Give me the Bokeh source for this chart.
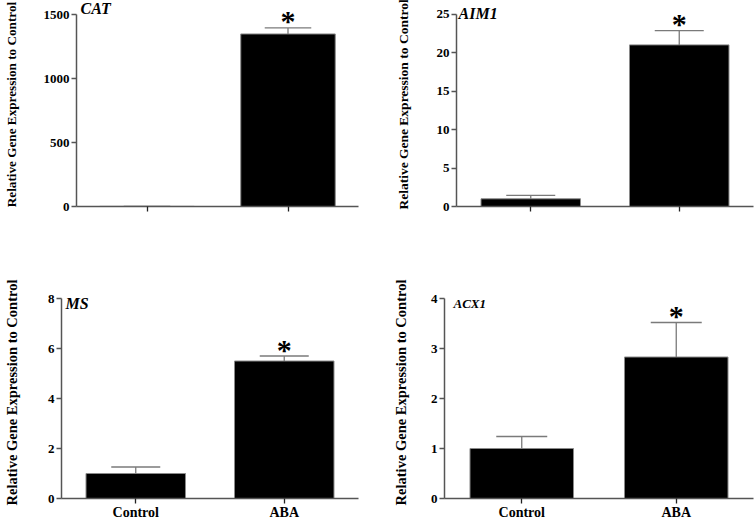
from bokeh.plotting import figure
from bokeh.models import ColumnDataSource, FixedTicker, FactorRange, Range1d
from bokeh.transform import dodge
from bokeh.layouts import column, row
from bokeh.embed import file_html
from bokeh.resources import INLINE

groups = ["Control", "ABA"]

genes = ["CAT", "AIM1", "MS", "ACX1"]
cat_mean = [1.0, 1348.0]
cat_err = [0.5, 47.0]
aim1_mean = [1.0, 21.0]
aim1_err = [0.45, 1.85]
ms_mean = [1.0, 5.5]
ms_err = [0.26, 0.2]
acx1_mean = [1.0, 2.83]
acx1_err = [0.24, 0.69]

y_max = [1500, 25, 8, 4]
y_ticks = [[0, 500, 1000, 1500], [0, 5, 10, 15, 20, 25], [0, 2, 4, 6, 8], [0, 1, 2, 3, 4]]
signif = ["", "*"]

SERIF = "Liberation Serif"
SANS = "Liberation Sans"
YLABEL = "Relative Gene Expression to Control"


def panel(gene, means, errs, ymax, ticks, w, h, bl, br, bt, bb, head, lab_standoff,
          lab_size, show_x, title_size, title_style, title_dy, title_dx):
    frame_h = h - bt - bb
    y_end = ymax * frame_h / (frame_h - head)
    p = figure(width=w, height=h, x_range=FactorRange(*groups),
               y_range=Range1d(0, y_end), output_backend="svg",
               toolbar_location=None, min_border_left=bl, min_border_right=br,
               min_border_top=bt, min_border_bottom=bb)
    p.outline_line_color = None
    p.xgrid.visible = False
    p.ygrid.visible = False
    p.background_fill_color = "white"
    p.border_fill_color = "white"

    src = ColumnDataSource(dict(x=groups, top=means,
                                up=[m + e for m, e in zip(means, errs)]))
    p.vbar(x="x", top="top", bottom=0, width=0.67, source=src,
           fill_color="black", line_color="#8a8a8a", line_width=1)
    p.segment(x0="x", x1="x", y0="top", y1="up", source=src,
              line_color="#7a7a7a", line_width=1.3)
    p.segment(x0=dodge("x", -0.165, range=p.x_range),
              x1=dodge("x", 0.165, range=p.x_range),
              y0="up", y1="up", source=src, line_color="#7a7a7a", line_width=1.3)

    star_src = ColumnDataSource(dict(x=[groups[1]], y=[src.data["up"][1]], t=[signif[1]]))
    p.text(x="x", y="y", text="t", source=star_src, text_align="center",
           text_baseline="alphabetic", y_offset=-7, text_font=SANS,
           text_font_style="bold", text_font_size="30px", text_color="black")

    # gene name, at the left edge of the frame, level with the top tick
    title_src = ColumnDataSource(dict(x=[0.0], y=[ymax], t=[gene]))
    p.text(x="x", y="y", text="t", source=title_src, text_align="left",
           text_baseline="middle", x_offset=title_dx, y_offset=title_dy,
           text_font=SERIF, text_font_style=title_style,
           text_font_size=title_size, text_color="black")

    yax = p.yaxis[0]
    yax.ticker = FixedTicker(ticks=ticks)
    yax.bounds = (0, ymax)
    yax.minor_tick_line_color = None
    yax.major_tick_in = 0
    yax.major_tick_out = 5
    yax.major_label_standoff = 2
    yax.major_label_text_font = SERIF
    yax.major_label_text_font_style = "bold"
    yax.major_label_text_font_size = "13px"
    yax.major_label_text_color = "black"
    yax.axis_line_color = "#555555"
    yax.axis_line_width = 1.5
    yax.major_tick_line_color = "#555555"
    yax.major_tick_line_width = 1.3
    yax.axis_label = YLABEL
    yax.axis_label_text_font = SERIF
    yax.axis_label_text_font_style = "bold"
    yax.axis_label_text_font_size = lab_size
    yax.axis_label_text_color = "black"
    yax.axis_label_standoff = lab_standoff

    xax = p.xaxis[0]
    xax.minor_tick_line_color = None
    xax.major_tick_in = 0
    xax.major_tick_out = 5
    xax.axis_line_color = "#555555"
    xax.axis_line_width = 1.5
    xax.major_tick_line_color = "#222222"
    xax.major_tick_line_width = 1.3
    xax.major_label_standoff = 1
    xax.major_label_text_font = SERIF
    xax.major_label_text_font_style = "bold"
    xax.major_label_text_font_size = "14px"
    xax.major_label_text_color = "black" if show_x else None
    xax.major_label_orientation = "horizontal"
    return p


p1 = panel(genes[0], cat_mean, cat_err, y_max[0], y_ticks[0], 380, 260,
           70, 22, 2, 54, 12, 22, "13.2px", False, "16px", "bold italic", -6, 4)
p2 = panel(genes[1], aim1_mean, aim1_err, y_max[1], y_ticks[1], 375, 260,
           76, 2, 1, 48, 12, 23, "13.5px", False, "16px", "bold italic", -1, 2)
p3 = panel(genes[2], ms_mean, ms_err, y_max[2], y_ticks[2], 380, 262,
           53, 22, 26, 24, 12, 25, "14.5px", True, "16px", "bold italic", 5, 4)
p4 = panel(genes[3], acx1_mean, acx1_err, y_max[3], y_ticks[3], 375, 262,
           64, 2, 26, 24, 12, 19, "14.5px", True, "13px", "bold italic", 5, 9)

layout = column(row(p1, p2), row(p3, p4))

open("out.html", "w").write(file_html(layout, INLINE))
